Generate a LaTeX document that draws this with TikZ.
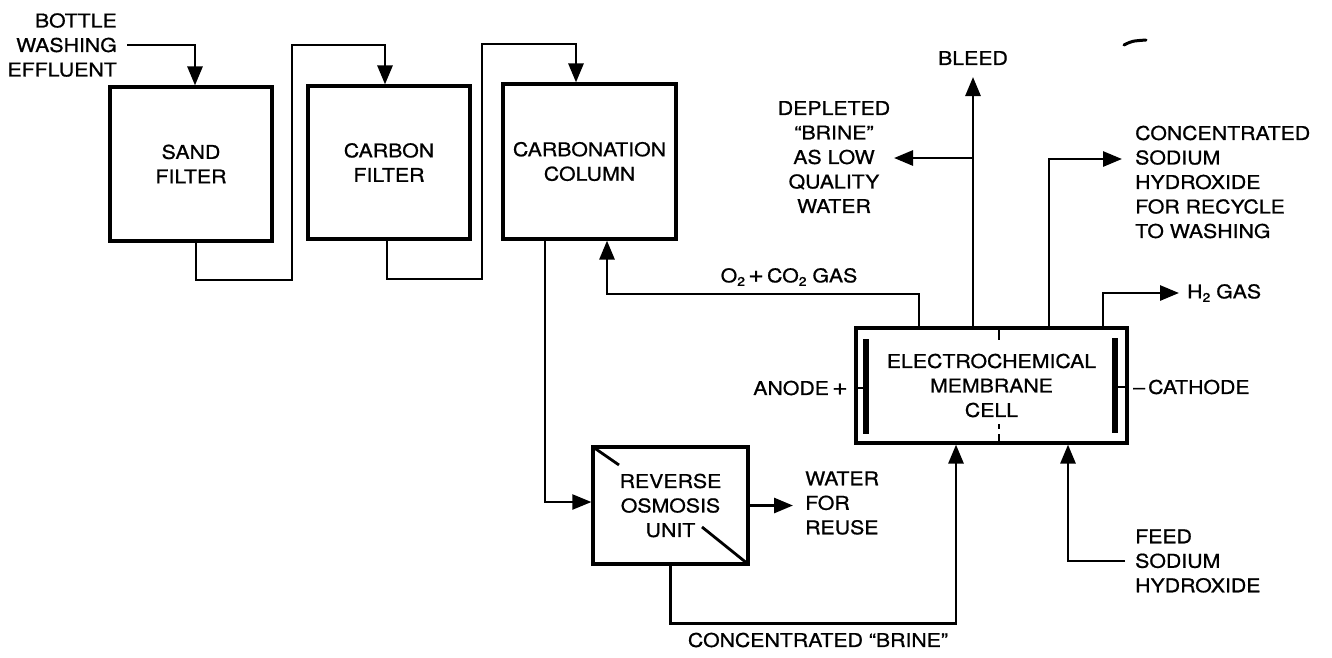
\documentclass[tikz,border=0pt]{standalone}
\usepackage{fontspec}
\setmainfont[FakeStretch=1.12,FakeBold=0.8]{TeX Gyre Heros}
\usetikzlibrary{arrows.meta}
\newcommand{\lblfont}{\fontsize{19}{24.5}\selectfont}
\newcommand{\sbs}[1]{\raisebox{-0.35ex}{\fontsize{12.5}{12.5}\selectfont #1}}
\newcommand{\bigplus}{{\fontsize{24}{24}\selectfont +}}
\tikzset{
  box/.style={draw, line width=3.2pt, inner sep=0pt, align=center, font=\lblfont},
  flow/.style={line width=2.8pt, -{Triangle[length=19pt,width=15pt]}},
  pipe/.style={line width=2.8pt},
  lbl/.style={inner sep=0pt, font=\lblfont},
  electrode/.style={line width=5.5pt},
}
\begin{document}
\begin{tikzpicture}[x=1pt,y=-1pt]
\useasboundingbox (0,0) rectangle (1332,657);

% process boxes
\node[box, minimum width=162pt, minimum height=154pt] (sand) at (191,164)
  {\fontsize{19}{28}\selectfont SAND\\FILTER};
\node[box, minimum width=162pt, minimum height=153pt] (carbon) at (389,162.5)
  {\fontsize{19}{28}\selectfont CARBON\\FILTER};
\node[box, minimum width=173pt, minimum height=155pt] (column) at (589.5,161.5)
  {\fontsize{19}{26}\selectfont CARBONATION\\COLUMN};
\node[box, minimum width=155pt, minimum height=117pt] (RO) at (670.5,505.5)
  {\fontsize{19}{23}\selectfont REVERSE\\OSMOSIS\\UNIT};
\node[box, minimum width=271pt, minimum height=115pt] (cell) at (991.5,385.5)
  {\fontsize{19}{25}\selectfont ELECTROCHEMICAL\\MEMBRANE\\CELL};

% labels
\node[lbl, anchor=east, align=right] (bottle) at (117,45)
  {\fontsize{19}{25}\selectfont BOTTLE\\WASHING\\EFFLUENT};
\node[lbl] (bleed) at (973,58) {BLEED};
\node[lbl, align=center] (depleted) at (834,157)
  {\fontsize{19}{27}\selectfont DEPLETED\\``BRINE''\\AS LOW\\QUALITY\\WATER};
\node[lbl, anchor=west, align=left] (conc) at (1135,182)
  {CONCENTRATED\\SODIUM\\HYDROXIDE\\FOR RECYCLE\\TO WASHING};
\node[lbl, anchor=west] (h2) at (1187,293) {H\sbs{2} GAS};
\node[lbl] (o2) at (789,277) {O\sbs{2}\,\bigplus\,CO\sbs{2} GAS};
\node[lbl, anchor=east] (anode) at (848,388) {ANODE\,\bigplus};
\node[lbl, anchor=west] (cathode) at (1133,387) {–\,CATHODE};
\node[lbl, anchor=west, align=left] (water) at (805,503)
  {\fontsize{19}{23}\selectfont WATER\\FOR\\REUSE};
\node[lbl] (brine) at (818,640) {CONCENTRATED ``BRINE''};
\node[lbl, anchor=west, align=left] (feed) at (1135,561)
  {\fontsize{19}{24}\selectfont FEED\\SODIUM\\HYDROXIDE};

% junction / free-end coordinates
\coordinate (j1) at (292,280);
\coordinate (j2) at (292,45);
\coordinate (j3) at (482,279);
\coordinate (j4) at (482,44);
\coordinate (wt) at (793,505);
\coordinate (o2c) at (919,294);
\coordinate (bt) at (973,77);
\coordinate (bj) at (973,158);
\coordinate (dt) at (894,158);
\coordinate (ct) at (1122,159);
\coordinate (ht) at (1179,293);

% connectors
\draw[flow] ([xshift=10pt]bottle.east) -| ([xshift=4pt]sand.north);
\draw[flow] ([xshift=5pt]sand.south) |- (j1) -- (j2) -| ([xshift=-4pt]carbon.north);
\draw[flow] ([xshift=-2pt]carbon.south) |- (j3) -- (j4) -| ([xshift=-13.5pt]column.north);
\draw[flow, line width=2.2pt] ([xshift=-44.5pt]column.south) |- ([yshift=3.5pt]RO.west);
\draw[flow] (RO.east) -- (RO.east -| wt);
\draw[flow] (RO.south) -- ++(0,58) -| ([xshift=-35.5pt]cell.south);
\draw[flow] ([xshift=-10pt]feed.west) -| ([xshift=76.5pt]cell.south);
\draw[flow] ([xshift=-72.5pt]cell.north) -- (o2c) -| ([xshift=17.5pt]column.south);
\draw[flow] ([xshift=-18.5pt]cell.north) -- (bt);
\draw[flow] (bj) -- (dt);
\draw[flow] ([xshift=57.5pt]cell.north) |- (ct);
\draw[flow] ([xshift=111.5pt]cell.north) |- (ht);

% electrodes and membrane
\draw[electrode] (866,339) -- (866,434);
\draw[pipe] (856,388) -- (866,388);
\draw[electrode] (1115,338) -- (1115,433);
\draw[pipe] (1115,387) -- (1127,387);
\draw[line width=2.4pt] (999,328) -- (999,340);
\draw[line width=2.4pt] (999,424) -- (999,429);
\draw[line width=2.4pt] (999,434) -- (999,443);

% reverse osmosis membrane marks
\draw[pipe] (593,447) -- (619,465);
\draw[pipe] (702,527) -- (748,564);

% stray mark
\draw[line width=3pt, line cap=round] (1124,45) .. controls (1132,41) .. (1146,40);
\end{tikzpicture}
\end{document}
